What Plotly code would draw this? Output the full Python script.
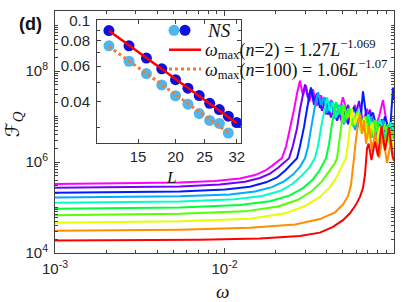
import numpy as np
import plotly.graph_objects as go

# ---------------- main panel: F_Q(omega) curves (log10 values) ----------------
curve_colors = ["#ff0000", "#ff8e00", "#e3ff00", "#55ff00", "#00ff39",
                "#00ffc6", "#00aaff", "#001cff", "#7100ff", "#ff00ff"]

lw_red = [-3.000, -2.617, -2.145, -1.791, -1.555, -1.437, -1.360, -1.301, -1.260, -1.224, -1.201, -1.183,
          -1.171, -1.165, -1.159, -1.150, -1.133, -1.112, -1.094, -1.074, -1.053, -1.029, -1.009, -1.000]
lf_red = [4.277, 4.281, 4.291, 4.319, 4.372, 4.447, 4.574, 4.723, 4.872, 5.064, 5.234, 5.426,
          5.723, 6.021, 6.298, 6.404, 6.043, 6.447, 6.128, 6.787, 6.255, 6.766, 6.128, 6.021]

lw_orange = [-3.000, -2.617, -2.263, -1.850, -1.584, -1.437, -1.348, -1.301, -1.271, -1.254, -1.242, -1.236, -1.224,
             -1.212, -1.201, -1.189, -1.177, -1.165, -1.147, -1.130, -1.112, -1.088, -1.065, -1.041, -1.018, -1.000]
lf_orange = [4.489, 4.496, 4.511, 4.553, 4.628, 4.745, 4.894, 5.064, 5.255, 5.489, 5.809, 6.085, 6.511,
             6.872, 7.043, 6.617, 6.915, 6.404, 6.787, 6.234, 6.660, 6.085, 6.574, 5.979, 6.447, 6.085]

lw_yellow = [-3.000, -2.617, -2.263, -1.850, -1.643, -1.525, -1.437, -1.378, -1.336, -1.307, -1.283, -1.271, -1.260,
             -1.248, -1.230, -1.212, -1.195, -1.177, -1.153, -1.130, -1.106, -1.083, -1.053, -1.029, -1.000]
lf_yellow = [4.666, 4.674, 4.696, 4.755, 4.872, 5.032, 5.234, 5.447, 5.681, 5.915, 6.085, 6.404, 6.830,
             7.170, 6.830, 7.085, 6.660, 6.979, 6.511, 6.872, 6.362, 6.787, 6.234, 6.723, 6.298]

lw_lime = [-3.000, -2.617, -2.263, -1.879, -1.684, -1.566, -1.484, -1.425, -1.378, -1.348, -1.336, -1.324, -1.313,
           -1.301, -1.295, -1.277, -1.260, -1.242, -1.218, -1.195, -1.171, -1.142, -1.112, -1.083, -1.053, -1.024, -1.000]
lf_lime = [4.830, 4.838, 4.860, 4.915, 5.021, 5.170, 5.362, 5.574, 5.809, 5.979, 6.085, 6.404, 6.787,
           7.128, 7.255, 6.957, 7.170, 6.787, 7.085, 6.660, 7.000, 6.532, 6.915, 6.404, 6.830, 6.362, 6.723]

lw_green = [-3.000, -2.617, -2.263, -1.909, -1.732, -1.614, -1.537, -1.478, -1.437, -1.401, -1.383, -1.366, -1.354,
            -1.342, -1.324, -1.307, -1.289, -1.265, -1.242, -1.218, -1.189, -1.159, -1.130, -1.100, -1.065, -1.035, -1.000]
lf_green = [4.972, 4.981, 5.000, 5.053, 5.138, 5.266, 5.426, 5.617, 5.830, 6.085, 6.404, 6.830, 7.128,
            7.319, 7.043, 7.255, 6.894, 7.170, 6.787, 7.106, 6.660, 7.000, 6.532, 6.894, 6.404, 6.830, 6.511]

lw_aqua = [-3.000, -2.617, -2.263, -1.938, -1.779, -1.673, -1.602, -1.549, -1.501, -1.466, -1.448, -1.431, -1.413,
           -1.401, -1.395, -1.378, -1.360, -1.342, -1.319, -1.295, -1.271, -1.242, -1.212, -1.183, -1.153, -1.118,
           -1.083, -1.047, -1.018, -1.000]
lf_aqua = [5.106, 5.115, 5.132, 5.181, 5.255, 5.362, 5.511, 5.681, 5.872, 6.085, 6.362, 6.745, 7.106,
           7.319, 7.426, 7.128, 7.319, 6.979, 7.234, 6.872, 7.170, 6.787, 7.149, 6.681, 7.043, 6.574,
           6.936, 6.447, 6.872, 6.660]

lw_sky = [-3.000, -2.617, -2.263, -1.968, -1.820, -1.720, -1.649, -1.596, -1.555, -1.525, -1.507, -1.490, -1.472,
          -1.460, -1.448, -1.431, -1.413, -1.395, -1.372, -1.348, -1.324, -1.295, -1.265, -1.230, -1.201, -1.165,
          -1.136, -1.100, -1.065, -1.029, -1.000]
lf_sky = [5.219, 5.228, 5.245, 5.287, 5.351, 5.447, 5.574, 5.723, 5.894, 6.085, 6.340, 6.723, 7.128,
          7.362, 7.532, 7.255, 7.426, 7.085, 7.340, 6.957, 7.255, 6.830, 7.170, 6.702, 7.085, 6.617,
          7.000, 6.489, 6.915, 6.447, 6.830]

lw_blue = [-3.000, -2.617, -2.263, -1.997, -1.850, -1.755, -1.690, -1.643, -1.608, -1.572, -1.555, -1.531, -1.513,
           -1.501, -1.490, -1.472, -1.454, -1.437, -1.413, -1.389, -1.366, -1.336, -1.307, -1.271, -1.236, -1.201,
           -1.183, -1.159, -1.124, -1.088, -1.053, -1.024, -1.006, -1.000]
lf_blue = [5.326, 5.334, 5.351, 5.394, 5.457, 5.553, 5.660, 5.809, 5.936, 6.085, 6.340, 6.766, 7.170,
           7.426, 7.638, 7.340, 7.511, 7.191, 7.426, 7.043, 7.340, 6.915, 7.255, 6.830, 7.213, 6.745,
           7.553, 6.872, 7.085, 6.532, 7.000, 6.617, 7.638, 7.362]

lw_violet = [-3.000, -2.617, -2.263, -2.027, -1.879, -1.791, -1.732, -1.684, -1.649, -1.619, -1.596, -1.572, -1.555,
             -1.537, -1.525, -1.507, -1.490, -1.472, -1.448, -1.425, -1.401, -1.372, -1.342, -1.307, -1.271, -1.242,
             -1.206, -1.177, -1.142, -1.106, -1.071, -1.041, -1.018, -1.000]
lf_violet = [5.432, 5.440, 5.462, 5.504, 5.564, 5.649, 5.745, 5.872, 5.979, 6.085, 6.362, 6.745, 7.149,
             7.511, 7.702, 7.404, 7.596, 7.255, 7.511, 7.128, 7.404, 6.979, 7.298, 6.872, 7.255, 6.787,
             7.340, 6.723, 7.149, 6.574, 6.936, 6.511, 6.872, 6.617]

lw_magenta = [-3.000, -2.617, -2.263, -2.056, -1.909, -1.820, -1.761, -1.720, -1.684, -1.661, -1.637, -1.614, -1.590,
              -1.572, -1.555, -1.537, -1.519, -1.501, -1.478, -1.454, -1.431, -1.401, -1.372, -1.336, -1.301, -1.265,
              -1.230, -1.195, -1.159, -1.124, -1.088, -1.065, -1.035, -1.000]
lf_magenta = [5.517, 5.526, 5.547, 5.585, 5.638, 5.713, 5.809, 5.915, 6.021, 6.085, 6.340, 6.702, 7.149,
              7.511, 7.787, 7.468, 7.681, 7.319, 7.596, 7.234, 7.468, 7.043, 7.362, 6.915, 7.426, 6.872,
              7.255, 6.745, 7.170, 6.617, 7.000, 7.362, 6.660, 6.511]

curves_logw = [lw_red, lw_orange, lw_yellow, lw_lime, lw_green, lw_aqua, lw_sky, lw_blue, lw_violet, lw_magenta]
curves_logf = [lf_red, lf_orange, lf_yellow, lf_lime, lf_green, lf_aqua, lf_sky, lf_blue, lf_violet, lf_magenta]

# ---------------- inset: omega_max vs L ----------------
L_n2 = [12, 14, 16, 18, 20, 22, 24, 26, 28, 30, 32]
wmax_n2 = [0.0894, 0.0753, 0.0656, 0.0581, 0.0514, 0.0467, 0.0430, 0.0394, 0.0367, 0.0341, 0.0317]
L_n100 = [12, 14, 16, 18, 20, 22, 24, 26, 28, 30]
wmax_n100 = [0.0753, 0.0633, 0.0551, 0.0485, 0.0429, 0.0390, 0.0351, 0.0325, 0.0314, 0.0282]
fit_L_n2 = [12, 32]
fit_w_n2 = [0.0892, 0.0315]
fit_L_n100 = [12, 30]
fit_w_n100 = [0.0748, 0.0283]

main_xticks = [1e-3, 1e-2, 1e-1]
main_xticklabels = ["10<sup>-3</sup>", "10<sup>-2</sup>", "10<sup>-1</sup>"]
main_yticks = [1e4, 1e6, 1e8]
main_yticklabels = ["10<sup>4</sup>", "10<sup>6</sup>", "10<sup>8</sup>"]
inset_xticks = [15, 20, 25, 32]
inset_yticks = [0.04, 0.06, 0.08, 0.1]
inset_yticklabels = ["0.04", "0.06", "0.08", "0.1"]

DARK_BLUE = "#1010dc"
LIGHT_BLUE = "#4fb6ec"
FIT_RED = "#ff0000"
FIT_ORANGE = "#f27a35"
AXC = "#262626"
SANS = "Liberation Sans, Arial, sans-serif"
SERIF = "Liberation Serif, Times New Roman, serif"

fig = go.Figure()

# plot magenta first so that red ends on top
for lw, lf, col in reversed(list(zip(curves_logw, curves_logf, curve_colors))):
    fig.add_trace(go.Scatter(x=10 ** np.array(lw), y=10 ** np.array(lf), mode="lines",
                             line=dict(color=col, width=2), xaxis="x", yaxis="y",
                             showlegend=False, hoverinfo="skip"))

fig.add_trace(go.Scatter(x=L_n100, y=wmax_n100, mode="markers",
                         marker=dict(color=LIGHT_BLUE, size=11, line=dict(width=0)),
                         xaxis="x2", yaxis="y2", showlegend=False))
fig.add_trace(go.Scatter(x=L_n2, y=wmax_n2, mode="markers",
                         marker=dict(color=DARK_BLUE, size=11, line=dict(width=0)),
                         xaxis="x2", yaxis="y2", showlegend=False))
fig.add_trace(go.Scatter(x=fit_L_n2, y=fit_w_n2, mode="lines",
                         line=dict(color=FIT_RED, width=2.5),
                         xaxis="x2", yaxis="y2", showlegend=False))
fig.add_trace(go.Scatter(x=fit_L_n100, y=fit_w_n100, mode="lines",
                         line=dict(color=FIT_ORANGE, width=3, dash="dot"),
                         xaxis="x2", yaxis="y2", showlegend=False))

# geometry (pixels of the 407x302 canvas)
PL, PR, PT, PB = 55, 394, 3, 253
def px(xp):
    return (xp - PL) / (PR - PL)
def py(yp):
    return (PB - yp) / (PB - PT)

minor_x = [m * 10.0 ** e for e in range(-3, -1) for m in range(2, 10)]
minor_y = [m * 10.0 ** e for e in range(4, 10) for m in range(1, 10) if not (m == 1 and e % 2 == 0)]

axis_common = dict(showline=True, linecolor="#404040", linewidth=1, mirror="allticks",
                   ticks="inside", tickcolor="#404040", showgrid=False, zeroline=False,
                   tickfont=dict(family=SANS, size=15, color=AXC))

fig.update_layout(
    width=407, height=302, autosize=False,
    margin=dict(l=PL, r=407 - PR, t=PT, b=302 - PB, pad=0),
    paper_bgcolor="white", plot_bgcolor="white",
    xaxis=dict(type="log", range=[-3, -1], domain=[0, 1], anchor="y",
               tickmode="array", tickvals=main_xticks, ticktext=main_xticklabels, ticklen=5,
               minor=dict(tickmode="array", tickvals=minor_x, ticks="inside", ticklen=3,
                          tickcolor="#404040"),
               ticklabelstandoff=2, **axis_common),
    yaxis=dict(type="log", range=[4, 9.319], domain=[0, 1], anchor="x",
               tickmode="array", tickvals=main_yticks, ticktext=main_yticklabels, ticklen=5,
               minor=dict(tickmode="array", tickvals=minor_y, ticks="inside", ticklen=3,
                          tickcolor="#404040"),
               ticklabelstandoff=3, **axis_common),
    xaxis2=dict(type="log", range=[1.0394, 1.5194], domain=[px(97), px(241)], anchor="y2",
                tickmode="array", tickvals=inset_xticks, ticklen=4, ticklabelstandoff=0,
                **axis_common),
    yaxis2=dict(type="log", range=[-1.597, -0.9953], domain=[py(139), py(12)], anchor="x2",
                tickmode="array", tickvals=inset_yticks, ticktext=inset_yticklabels, ticklen=4,
                minor=dict(tickmode="array", tickvals=[0.03, 0.05, 0.07, 0.09], ticks="inside",
                           ticklen=3, tickcolor="#404040"),
                ticklabelstandoff=3, **axis_common),
    showlegend=False,
)

shapes = []
for xc, col in [(174, LIGHT_BLUE), (185, DARK_BLUE)]:
    shapes.append(dict(type="circle", xref="paper", yref="paper", xsizemode="pixel", ysizemode="pixel",
                       xanchor=px(xc), yanchor=py(23), x0=-5.5, x1=5.5, y0=-5.5, y1=5.5,
                       fillcolor=col, line=dict(width=0)))
shapes.append(dict(type="line", xref="paper", yref="paper", x0=px(169), x1=px(201), y0=py(43), y1=py(43),
                   line=dict(color=FIT_RED, width=2.5)))
shapes.append(dict(type="line", xref="paper", yref="paper", x0=px(169), x1=px(201), y0=py(63), y1=py(63),
                   line=dict(color=FIT_ORANGE, width=3, dash="dot")))
fig.update_layout(shapes=shapes)

ann = [
    dict(x=px(205), y=py(23), text="<i>NS</i>", xanchor="left", yanchor="middle",
         font=dict(family=SERIF, size=19, color="#111")),
    dict(x=px(203), y=py(43),
         text="<i>ω</i><sub>max</sub>(<i>n</i>=2) = 1.27<i>L</i><sup>−1.069</sup>",
         xanchor="left", yanchor="middle", font=dict(family=SERIF, size=18, color="#111")),
    dict(x=px(203), y=py(63),
         text="<i>ω</i><sub>max</sub>(<i>n</i>=100) = 1.06<i>L</i><sup>−1.07</sup>",
         xanchor="left", yanchor="middle", font=dict(family=SERIF, size=18, color="#111")),
    dict(x=px(171), y=py(175), text="<i>L</i>", xanchor="center", yanchor="middle",
         font=dict(family=SERIF, size=17, color="#111")),
    dict(x=px(222), y=py(293), text="<i>ω</i>", xanchor="center", yanchor="middle",
         font=dict(family=SERIF, size=19, color="#111")),
    dict(x=px(13), y=py(120), text="ℱ<sub><i>Q</i></sub>", textangle=-90, xanchor="center",
         yanchor="middle", font=dict(family="DejaVu Serif, DejaVu Sans, serif", size=19, color="#111")),
    dict(x=px(30), y=py(16), text="<b>(d)</b>", xanchor="center", yanchor="middle",
         font=dict(family=SANS, size=18, color="#111")),
]
for a in ann:
    a.update(xref="paper", yref="paper", showarrow=False)
fig.update_layout(annotations=ann)

fig.write_html("out.html", config={"displayModeBar": False},
               post_script="document.body.style.margin='0';document.body.style.padding='0';")
